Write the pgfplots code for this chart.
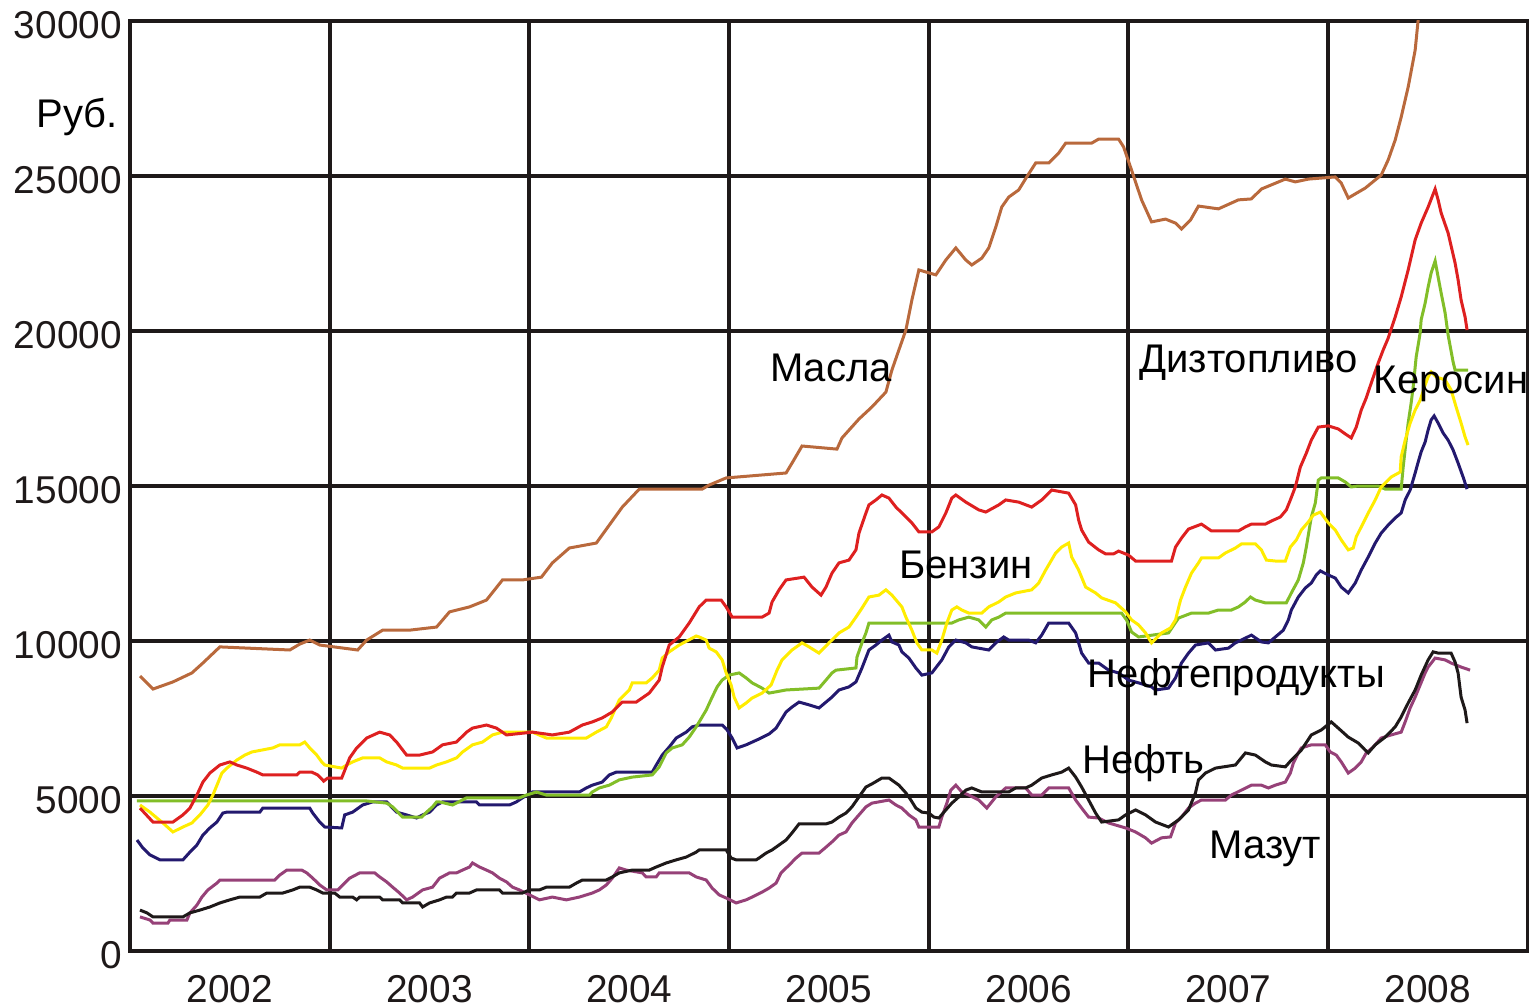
\documentclass[border=0pt]{standalone}
\usepackage{fontspec}
\setmainfont{Liberation Sans}
\usepackage{pgfplots}
\pgfplotsset{compat=1.18}

\definecolor{cMasla}{RGB}{185,105,60}
\definecolor{cDiz}{RGB}{222,32,32}
\definecolor{cKer}{RGB}{255,236,0}
\definecolor{cBenz}{RGB}{130,190,40}
\definecolor{cNp}{RGB}{35,25,110}
\definecolor{cNeft}{RGB}{30,25,25}
\definecolor{cMaz}{RGB}{150,65,120}
\definecolor{gridc}{RGB}{30,25,25}

\begin{document}
\begin{tikzpicture}
\begin{axis}[
    scale only axis,
    width=349.5pt, height=232.5pt,
    xmin=2002, xmax=2009,
    ymin=0, ymax=30000,
    xtick={2002,...,2009},
    x tick label as interval,
    xticklabels={2002,2003,2004,2005,2006,2007,2008},
    ytick={0,5000,...,30000},
    yticklabels={0,5000,10000,15000,20000,25000,30000},
    tick style={draw=none},
    grid=major,
    major grid style={line width=1pt, color=gridc},
    axis line style={line width=1pt, color=gridc},
    ticklabel style={font=\fontsize{9.7}{11}\selectfont, text=gridc},
    xticklabel style={yshift=-2.5pt},
    yticklabel style={xshift=1.5pt, yshift=-1pt},
    clip mode=individual,
    every axis plot/.append style={line width=0.75pt, mark=none},
    every node/.append style={font=\fontsize{10}{12}\selectfont, text=gridc},
]
% Масла
\addplot[cMasla] coordinates {(2002.05,8870)(2002.115,8450)(2002.215,8680)(2002.31,8970)(2002.365,9290)(2002.45,9810)(2002.8,9710)(2002.85,9900)(2002.9,10030)(2002.95,9870)(2003.14,9710)(2003.185,10030)(2003.265,10350)(2003.4,10350)(2003.535,10450)(2003.6,10940)(2003.7,11100)(2003.785,11320)(2003.865,11970)(2003.965,11970)(2004.06,12060)(2004.115,12520)(2004.2,13000)(2004.335,13160)(2004.4,13740)(2004.465,14320)(2004.55,14900)(2004.865,14900)(2004.9,15030)(2004.985,15260)(2005.285,15420)(2005.315,15740)(2005.365,16290)(2005.54,16190)(2005.565,16550)(2005.65,17160)(2005.715,17550)(2005.785,18030)(2005.815,18740)(2005.85,19390)(2005.885,20030)(2005.915,21000)(2005.95,21970)(2006.035,21810)(2006.085,22290)(2006.135,22680)(2006.185,22290)(2006.215,22130)(2006.265,22350)(2006.3,22680)(2006.335,23350)(2006.365,24000)(2006.4,24320)(2006.45,24550)(2006.49,24970)(2006.535,25420)(2006.6,25420)(2006.65,25740)(2006.685,26060)(2006.815,26060)(2006.85,26190)(2006.95,26190)(2006.975,25940)(2007.015,25190)(2007.065,24230)(2007.115,23520)(2007.185,23610)(2007.235,23480)(2007.265,23290)(2007.31,23580)(2007.35,24030)(2007.45,23940)(2007.55,24230)(2007.615,24260)(2007.665,24580)(2007.785,24900)(2007.835,24810)(2007.9,24900)(2008.035,24970)(2008.065,24770)(2008.1,24290)(2008.185,24610)(2008.265,25030)(2008.3,25520)(2008.335,26160)(2008.365,26900)(2008.4,27870)(2008.435,29060)(2008.455,30360)};
% Мазут
\addplot[cMaz] coordinates {(2002.05,1100)(2002.1,1000)(2002.115,900)(2002.19,900)(2002.2,1000)(2002.285,1000)(2002.3,1230)(2002.335,1480)(2002.36,1740)(2002.39,1970)(2002.435,2190)(2002.45,2290)(2002.725,2290)(2002.75,2450)(2002.785,2610)(2002.86,2610)(2002.885,2520)(2002.915,2350)(2002.95,2130)(2002.985,1970)(2003.04,1970)(2003.065,2130)(2003.1,2350)(2003.15,2520)(2003.225,2520)(2003.25,2390)(2003.285,2230)(2003.315,2060)(2003.35,1870)(2003.385,1650)(2003.415,1740)(2003.465,1970)(2003.515,2060)(2003.55,2350)(2003.6,2520)(2003.635,2520)(2003.665,2610)(2003.7,2710)(2003.715,2840)(2003.75,2710)(2003.785,2610)(2003.815,2520)(2003.85,2350)(2003.885,2230)(2003.915,2060)(2003.95,1970)(2004.0,1810)(2004.05,1650)(2004.115,1740)(2004.185,1650)(2004.25,1740)(2004.315,1870)(2004.35,1970)(2004.385,2130)(2004.415,2350)(2004.45,2680)(2004.485,2610)(2004.565,2520)(2004.585,2390)(2004.635,2390)(2004.65,2520)(2004.8,2520)(2004.835,2390)(2004.885,2290)(2004.915,2030)(2004.95,1810)(2004.985,1710)(2005.035,1550)(2005.085,1650)(2005.115,1740)(2005.165,1900)(2005.2,2030)(2005.235,2190)(2005.26,2520)(2005.3,2770)(2005.335,3000)(2005.365,3160)(2005.45,3160)(2005.485,3350)(2005.515,3520)(2005.55,3740)(2005.585,3840)(2005.615,4130)(2005.65,4390)(2005.685,4650)(2005.715,4770)(2005.8,4870)(2005.835,4710)(2005.865,4610)(2005.9,4390)(2005.935,4230)(2005.95,4000)(2006.05,4000)(2006.065,4320)(2006.09,4770)(2006.11,5190)(2006.135,5350)(2006.165,5130)(2006.2,5030)(2006.25,4870)(2006.29,4610)(2006.335,4970)(2006.385,5260)(2006.485,5260)(2006.515,5030)(2006.565,5030)(2006.6,5260)(2006.7,5260)(2006.735,4870)(2006.765,4610)(2006.8,4320)(2006.85,4290)(2006.9,4130)(2006.985,3970)(2007.035,3840)(2007.085,3650)(2007.115,3480)(2007.165,3650)(2007.21,3680)(2007.235,4130)(2007.265,4320)(2007.3,4610)(2007.335,4770)(2007.365,4870)(2007.485,4870)(2007.515,5030)(2007.565,5190)(2007.615,5350)(2007.665,5350)(2007.7,5260)(2007.735,5350)(2007.785,5450)(2007.81,5740)(2007.825,6060)(2007.85,6390)(2007.865,6550)(2007.915,6650)(2007.985,6650)(2008.01,6420)(2008.04,6320)(2008.065,6100)(2008.1,5740)(2008.135,5900)(2008.165,6100)(2008.19,6390)(2008.225,6580)(2008.265,6870)(2008.315,6970)(2008.365,7060)(2008.385,7390)(2008.41,7840)(2008.435,8190)(2008.46,8580)(2008.485,8970)(2008.5,9160)(2008.535,9450)(2008.585,9390)(2008.615,9290)(2008.665,9160)(2008.71,9060)};
% Нефть
\addplot[cNeft] coordinates {(2002.05,1320)(2002.085,1230)(2002.115,1100)(2002.265,1100)(2002.3,1230)(2002.35,1320)(2002.4,1420)(2002.45,1550)(2002.5,1650)(2002.55,1740)(2002.65,1740)(2002.685,1870)(2002.765,1870)(2002.815,1970)(2002.85,2060)(2002.9,2060)(2002.935,1970)(2002.965,1870)(2003.025,1870)(2003.05,1740)(2003.115,1740)(2003.135,1650)(2003.15,1740)(2003.25,1740)(2003.265,1650)(2003.35,1650)(2003.365,1550)(2003.45,1550)(2003.465,1420)(2003.5,1550)(2003.55,1650)(2003.585,1740)(2003.615,1740)(2003.635,1870)(2003.7,1870)(2003.735,1970)(2003.85,1970)(2003.865,1870)(2003.965,1870)(2004.0,1970)(2004.05,1970)(2004.085,2060)(2004.2,2060)(2004.235,2190)(2004.265,2290)(2004.385,2290)(2004.415,2390)(2004.45,2520)(2004.515,2610)(2004.6,2610)(2004.635,2710)(2004.685,2840)(2004.735,2940)(2004.785,3030)(2004.835,3190)(2004.85,3260)(2004.985,3260)(2005.01,3000)(2005.035,2940)(2005.135,2940)(2005.15,3000)(2005.185,3160)(2005.215,3260)(2005.25,3420)(2005.285,3580)(2005.315,3810)(2005.35,4100)(2005.485,4100)(2005.515,4160)(2005.55,4320)(2005.585,4450)(2005.615,4650)(2005.65,4970)(2005.685,5290)(2005.715,5390)(2005.765,5580)(2005.8,5580)(2005.85,5350)(2005.885,5100)(2005.91,4870)(2005.935,4610)(2005.965,4480)(2006.0,4450)(2006.025,4320)(2006.05,4290)(2006.085,4550)(2006.115,4770)(2006.15,4970)(2006.185,5190)(2006.215,5260)(2006.265,5130)(2006.4,5130)(2006.435,5260)(2006.485,5260)(2006.515,5350)(2006.565,5580)(2006.615,5680)(2006.665,5770)(2006.7,5900)(2006.735,5610)(2006.765,5290)(2006.8,4870)(2006.835,4450)(2006.865,4160)(2006.95,4230)(2006.985,4390)(2007.035,4550)(2007.085,4390)(2007.135,4160)(2007.2,4000)(2007.25,4230)(2007.3,4550)(2007.335,5100)(2007.35,5520)(2007.385,5740)(2007.435,5900)(2007.535,6000)(2007.585,6390)(2007.635,6320)(2007.685,6100)(2007.715,6000)(2007.785,5940)(2007.815,6160)(2007.865,6480)(2007.915,6970)(2007.965,7130)(2008.015,7390)(2008.05,7190)(2008.1,6900)(2008.15,6710)(2008.185,6480)(2008.2,6390)(2008.235,6650)(2008.285,6900)(2008.335,7230)(2008.365,7550)(2008.4,8000)(2008.435,8420)(2008.465,8900)(2008.5,9390)(2008.525,9650)(2008.55,9610)(2008.615,9610)(2008.635,9320)(2008.65,8970)(2008.665,8190)(2008.685,7770)(2008.695,7350)};
% Нефтепродукты
\addplot[cNp] coordinates {(2002.035,3580)(2002.065,3320)(2002.1,3100)(2002.15,2940)(2002.265,2940)(2002.3,3190)(2002.335,3420)(2002.365,3740)(2002.4,3970)(2002.435,4160)(2002.465,4450)(2002.485,4480)(2002.65,4480)(2002.665,4610)(2002.9,4610)(2002.915,4450)(2002.95,4160)(2002.975,4000)(2003.06,3970)(2003.075,4390)(2003.115,4480)(2003.165,4710)(2003.215,4810)(2003.285,4810)(2003.3,4710)(2003.335,4480)(2003.385,4390)(2003.435,4290)(2003.465,4390)(2003.5,4480)(2003.535,4710)(2003.565,4810)(2003.735,4810)(2003.75,4710)(2003.9,4710)(2003.935,4810)(2003.965,4940)(2004.015,5130)(2004.25,5130)(2004.285,5260)(2004.315,5350)(2004.365,5450)(2004.4,5680)(2004.435,5770)(2004.615,5770)(2004.635,6000)(2004.665,6320)(2004.7,6580)(2004.735,6870)(2004.785,7060)(2004.815,7230)(2004.85,7290)(2004.965,7290)(2004.99,7130)(2005.015,6870)(2005.04,6550)(2005.085,6650)(2005.15,6840)(2005.2,7000)(2005.235,7190)(2005.26,7450)(2005.285,7710)(2005.315,7870)(2005.35,8030)(2005.4,7940)(2005.45,7840)(2005.485,8030)(2005.515,8190)(2005.55,8420)(2005.6,8520)(2005.635,8680)(2005.665,9130)(2005.7,9710)(2005.735,9870)(2005.765,10030)(2005.8,10190)(2005.815,9970)(2005.85,9870)(2005.865,9650)(2005.9,9450)(2005.935,9130)(2005.965,8900)(2006.015,8970)(2006.065,9390)(2006.1,9810)(2006.135,10030)(2006.185,9940)(2006.215,9810)(2006.3,9710)(2006.335,9940)(2006.375,10130)(2006.4,10030)(2006.5,10030)(2006.535,9940)(2006.565,10190)(2006.6,10580)(2006.7,10580)(2006.735,10260)(2006.75,9940)(2006.765,9610)(2006.8,9290)(2006.85,9290)(2006.9,9060)(2006.95,8970)(2007.0,8740)(2007.05,8650)(2007.115,8520)(2007.135,8420)(2007.2,8480)(2007.235,8810)(2007.265,9290)(2007.3,9610)(2007.335,9870)(2007.4,9940)(2007.435,9710)(2007.5,9770)(2007.535,9940)(2007.565,10030)(2007.615,10190)(2007.665,9970)(2007.7,9940)(2007.735,10130)(2007.775,10350)(2007.8,10680)(2007.815,11000)(2007.85,11420)(2007.885,11710)(2007.915,11870)(2007.94,12130)(2007.96,12260)(2008.0,12130)(2008.035,12030)(2008.065,11740)(2008.1,11550)(2008.135,11870)(2008.165,12290)(2008.2,12710)(2008.235,13160)(2008.265,13480)(2008.3,13740)(2008.335,13970)(2008.365,14130)(2008.385,14550)(2008.41,14870)(2008.435,15420)(2008.45,15770)(2008.465,16100)(2008.485,16420)(2008.5,16810)(2008.515,17130)(2008.53,17260)(2008.55,17030)(2008.575,16710)(2008.6,16480)(2008.625,16160)(2008.65,15740)(2008.675,15290)(2008.695,14900)};
% Бензин
\addplot[cBenz] coordinates {(2002.035,4840)(2003.185,4840)(2003.285,4770)(2003.315,4650)(2003.365,4320)(2003.46,4320)(2003.485,4480)(2003.515,4650)(2003.535,4810)(2003.55,4810)(2003.615,4710)(2003.685,4940)(2003.95,4940)(2003.985,5030)(2004.035,5130)(2004.085,5030)(2004.3,5030)(2004.315,5130)(2004.35,5260)(2004.4,5350)(2004.45,5520)(2004.515,5610)(2004.615,5680)(2004.65,5940)(2004.685,6390)(2004.715,6550)(2004.765,6650)(2004.8,6900)(2004.835,7230)(2004.85,7390)(2004.885,7770)(2004.915,8190)(2004.94,8520)(2004.965,8740)(2005.0,8900)(2005.05,8970)(2005.085,8810)(2005.115,8650)(2005.165,8480)(2005.2,8320)(2005.285,8420)(2005.45,8480)(2005.485,8740)(2005.515,8970)(2005.535,9060)(2005.635,9130)(2005.64,9480)(2005.665,9940)(2005.685,10260)(2005.7,10580)(2006.115,10580)(2006.15,10680)(2006.2,10770)(2006.25,10680)(2006.285,10450)(2006.315,10680)(2006.35,10770)(2006.385,10900)(2006.965,10900)(2006.99,10680)(2007.015,10290)(2007.05,10130)(2007.2,10260)(2007.25,10740)(2007.315,10900)(2007.4,10900)(2007.45,11000)(2007.515,11000)(2007.55,11100)(2007.585,11260)(2007.61,11420)(2007.635,11320)(2007.685,11230)(2007.79,11230)(2007.815,11550)(2007.85,11970)(2007.875,12520)(2007.89,13030)(2007.915,14000)(2007.935,14450)(2007.95,15190)(2007.965,15260)(2008.05,15260)(2008.085,15130)(2008.115,14970)(2008.15,15000)(2008.25,15000)(2008.285,14900)(2008.365,14900)(2008.375,15610)(2008.39,16480)(2008.4,17030)(2008.415,17680)(2008.425,18190)(2008.44,19160)(2008.46,19940)(2008.465,20360)(2008.485,20900)(2008.5,21420)(2008.515,21870)(2008.535,22260)(2008.55,21740)(2008.565,21230)(2008.585,20580)(2008.6,19870)(2008.625,19000)(2008.635,18740)(2008.7,18740)};
% Керосин
\addplot[cKer] coordinates {(2002.05,4710)(2002.1,4480)(2002.135,4290)(2002.165,4130)(2002.215,3840)(2002.265,4000)(2002.31,4130)(2002.35,4390)(2002.39,4710)(2002.415,5030)(2002.44,5420)(2002.46,5740)(2002.485,5900)(2002.535,6160)(2002.575,6320)(2002.61,6420)(2002.715,6550)(2002.75,6650)(2002.85,6650)(2002.875,6740)(2002.9,6550)(2002.935,6320)(2002.96,6100)(2002.975,6000)(2003.06,5900)(2003.085,6000)(2003.115,6100)(2003.165,6230)(2003.25,6230)(2003.285,6100)(2003.335,6000)(2003.365,5900)(2003.5,5900)(2003.535,6000)(2003.585,6100)(2003.635,6230)(2003.665,6420)(2003.715,6650)(2003.765,6740)(2003.815,6970)(2003.865,7060)(2004.015,7060)(2004.085,6870)(2004.285,6870)(2004.335,7060)(2004.385,7230)(2004.41,7520)(2004.45,8100)(2004.5,8420)(2004.515,8650)(2004.585,8650)(2004.615,8810)(2004.65,9060)(2004.665,9450)(2004.7,9650)(2004.75,9870)(2004.835,10160)(2004.85,10130)(2004.885,10030)(2004.9,9770)(2004.935,9650)(2004.965,9390)(2004.985,8970)(2005.01,8580)(2005.025,8190)(2005.05,7840)(2005.085,8000)(2005.115,8160)(2005.165,8320)(2005.21,8580)(2005.24,9060)(2005.265,9390)(2005.315,9710)(2005.365,9940)(2005.4,9810)(2005.45,9610)(2005.5,9940)(2005.55,10260)(2005.6,10450)(2005.635,10770)(2005.665,11060)(2005.7,11420)(2005.75,11480)(2005.785,11650)(2005.815,11480)(2005.865,11100)(2005.885,10770)(2005.915,10350)(2005.94,9940)(2005.965,9710)(2006.015,9710)(2006.04,9610)(2006.065,10030)(2006.09,10580)(2006.115,11000)(2006.14,11100)(2006.165,11000)(2006.2,10900)(2006.265,10900)(2006.3,11100)(2006.35,11260)(2006.385,11420)(2006.435,11550)(2006.515,11650)(2006.55,11870)(2006.585,12290)(2006.635,12840)(2006.665,13030)(2006.7,13160)(2006.715,12710)(2006.75,12290)(2006.785,11740)(2006.835,11550)(2006.865,11390)(2006.935,11230)(2006.985,10940)(2007.015,10680)(2007.05,10520)(2007.085,10260)(2007.115,9940)(2007.165,10260)(2007.21,10420)(2007.235,10680)(2007.26,11320)(2007.285,11740)(2007.315,12190)(2007.35,12520)(2007.365,12680)(2007.45,12680)(2007.485,12840)(2007.535,13000)(2007.565,13130)(2007.635,13130)(2007.665,12940)(2007.69,12610)(2007.735,12580)(2007.785,12580)(2007.81,13030)(2007.84,13260)(2007.865,13580)(2007.9,13840)(2007.925,14060)(2007.96,14160)(2008.0,13810)(2008.035,13580)(2008.065,13260)(2008.1,12940)(2008.125,13000)(2008.14,13360)(2008.165,13680)(2008.2,14130)(2008.235,14550)(2008.265,14970)(2008.315,15290)(2008.36,15450)(2008.365,15940)(2008.385,16480)(2008.41,17030)(2008.435,17450)(2008.46,17770)(2008.485,18260)(2008.5,18520)(2008.515,18680)(2008.54,18520)(2008.585,18420)(2008.615,18100)(2008.64,17550)(2008.665,17030)(2008.685,16580)(2008.7,16320)};
% Дизтопливо
\addplot[cDiz] coordinates {(2002.05,4610)(2002.115,4160)(2002.215,4160)(2002.265,4390)(2002.3,4610)(2002.335,5030)(2002.365,5450)(2002.4,5740)(2002.45,6000)(2002.5,6100)(2002.535,6000)(2002.585,5900)(2002.635,5770)(2002.665,5680)(2002.835,5680)(2002.85,5770)(2002.91,5770)(2002.94,5680)(2002.97,5480)(2002.99,5580)(2003.06,5580)(2003.1,6230)(2003.135,6550)(2003.185,6870)(2003.25,7060)(2003.3,6970)(2003.335,6740)(2003.385,6320)(2003.45,6320)(2003.515,6420)(2003.565,6650)(2003.635,6740)(2003.685,7060)(2003.715,7190)(2003.785,7290)(2003.835,7190)(2003.885,6970)(2004.015,7060)(2004.115,6970)(2004.2,7060)(2004.265,7290)(2004.315,7390)(2004.365,7520)(2004.415,7710)(2004.465,8030)(2004.535,8030)(2004.6,8320)(2004.65,8740)(2004.665,9160)(2004.7,9870)(2004.75,10130)(2004.8,10580)(2004.85,11100)(2004.885,11320)(2004.96,11320)(2004.985,11100)(2005.015,10770)(2005.165,10770)(2005.2,10900)(2005.215,11260)(2005.25,11650)(2005.285,11970)(2005.375,12060)(2005.415,11740)(2005.46,11480)(2005.485,11740)(2005.515,12190)(2005.55,12520)(2005.6,12610)(2005.635,12940)(2005.65,13480)(2005.685,14130)(2005.7,14390)(2005.735,14550)(2005.765,14710)(2005.8,14610)(2005.835,14320)(2005.865,14130)(2005.915,13810)(2005.95,13520)(2006.015,13520)(2006.05,13680)(2006.085,14130)(2006.115,14610)(2006.135,14710)(2006.185,14480)(2006.25,14230)(2006.285,14160)(2006.35,14390)(2006.385,14550)(2006.45,14480)(2006.515,14320)(2006.565,14550)(2006.615,14870)(2006.665,14810)(2006.7,14770)(2006.735,14390)(2006.75,13900)(2006.765,13580)(2006.8,13190)(2006.85,12940)(2006.885,12810)(2006.925,12810)(2006.95,12900)(2007.0,12770)(2007.035,12580)(2007.215,12580)(2007.235,13030)(2007.265,13320)(2007.3,13610)(2007.365,13770)(2007.415,13550)(2007.55,13550)(2007.585,13680)(2007.615,13770)(2007.685,13770)(2007.715,13870)(2007.76,14000)(2007.79,14230)(2007.81,14550)(2007.835,14970)(2007.86,15610)(2007.89,16060)(2007.915,16480)(2007.95,16900)(2008.0,16940)(2008.05,16840)(2008.085,16680)(2008.115,16550)(2008.14,16900)(2008.165,17450)(2008.19,17840)(2008.215,18320)(2008.25,18970)(2008.275,19390)(2008.3,19770)(2008.335,20450)(2008.365,21100)(2008.4,21970)(2008.435,22940)(2008.465,23480)(2008.5,24000)(2008.535,24580)(2008.55,24230)(2008.565,23810)(2008.6,23160)(2008.635,22190)(2008.65,21650)(2008.665,21000)(2008.685,20450)(2008.695,20030)};

\node[anchor=base] at (axis cs:2001.735,26580) {Руб.};
\node[anchor=base] at (axis cs:2005.51,18355) {Масла};
\node[anchor=base] at (axis cs:2007.6,18677) {Дизтопливо};
\node[anchor=base] at (axis cs:2008.615,17968) {Керосин};
\node[anchor=base] at (axis cs:2006.185,12032) {Бензин};
\node[anchor=base] at (axis cs:2007.54,8516) {Нефтепродукты};
\node[anchor=base] at (axis cs:2007.075,5742) {Нефть};
\node[anchor=base] at (axis cs:2007.685,3000) {Мазут};
\end{axis}
\pgfresetboundingbox
\path (current axis.south west) ++(-32.5pt,-14pt) coordinate (bl);
\path (current axis.north east) ++(0.25pt,5.25pt) coordinate (tr);
\path[use as bounding box] (bl) rectangle (tr);
\end{tikzpicture}
\end{document}
